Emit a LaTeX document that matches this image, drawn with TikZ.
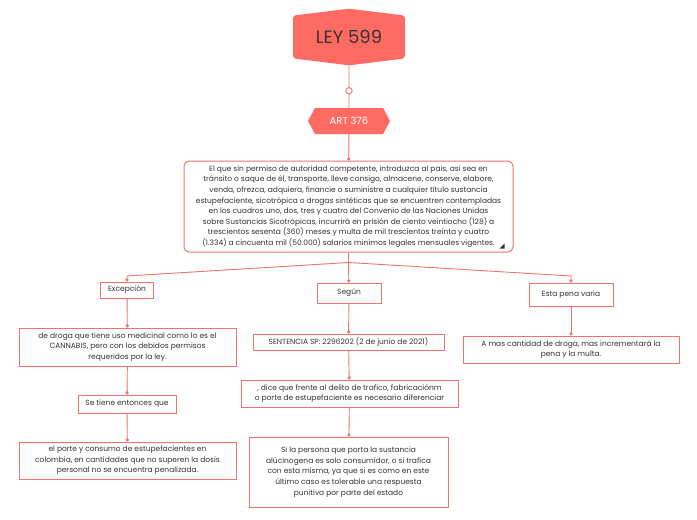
\documentclass[tikz,border=0pt]{standalone}
\usepackage{fontspec}
\setmainfont{Poppins}
\usepackage{tikz}
\usetikzlibrary{shapes.symbols,% signal shapes for the two titles
arrows.meta}
\definecolor{salmon}{HTML}{FF6B63}
\definecolor{linea}{HTML}{F4716B}
\definecolor{texto}{HTML}{333333}
\tikzset{every node/.style={font=\fontsize{7.5}{10.6}\selectfont,text=texto},
  caja/.style={draw=linea,line width=1pt,fill=white,align=center,inner xsep=4pt,inner ysep=3pt},
  conector/.style={draw=linea,line width=0.9pt,-{Circle[length=3.2pt]}}}
\begin{document}
\begin{tikzpicture}[x=1pt,y=-1pt]
  \useasboundingbox[fill=white] (0,0) rectangle (697,520);
  % titulos
  \node[signal,signal to=north and south,signal pointer angle=166,fill=salmon,
    minimum width=112pt,minimum height=51pt,inner sep=0pt,rounded corners=3pt,
    font=\fontsize{18}{20}\selectfont] (ley) at (349,37) {LEY 599};
  \node[signal,signal to=west and east,signal pointer angle=124,fill=salmon,
    minimum width=82pt,minimum height=26pt,inner sep=0pt,text=white,
    font=\fontsize{10}{12}\selectfont] (art) at (349,121) {ART 376};
  \node[caja,rounded corners=5pt,minimum width=329pt,minimum height=91pt] (ley376) at (348.5,206.5)
    {El que sin permiso de autoridad competente, introduzca al pais, asi sea en\\
     tránsito o saque de él, transporte, lleve consigo, almacene, conserve, elabore,\\
     venda, ofrezca, adquiera, financie o suministre a cualquier título sustancia\\
     estupefaciente, sicotrópica o drogas sintéticas que se encuentren contempladas\\
     en los cuadros uno, dos, tres y cuatro del Convenio de las Naciones Unidas\\
     sobre Sustancias Sicotrópicas, incurrirá en prisión de ciento veintiocho (128) a\\
     trescientos sesenta (360) meses y multa de mil trescientos treinta y cuatro\\
     (1.334) a cincuenta mil (50.000) salarios minimos legales mensuales vigentes.};
  \fill[texto] (ley376.south east) ++(-9,-4) -- ++(0,-5) -- ++(-5,5) -- cycle;
  % columna izquierda
  \node[caja,minimum width=53pt,minimum height=16pt] (excep) at (127,290) {Excepción};
  \node[caja,minimum width=217pt,minimum height=38pt] (medic) at (127.5,347)
    {de droga que tiene uso medicinal como lo es el\\ CANNABIS, pero con los debidos permisos\\ requeridos por la ley.};
  \node[caja,minimum width=98pt,minimum height=18pt] (setiene) at (127,404) {Se tiene entonces que};
  \node[caja,minimum width=217pt,minimum height=37pt] (porte) at (127.5,460.5)
    {el porte y consumo de estupefacientes en\\ colombia, en cantidades que no superen la dosis\\ personal no se encuentra penalizada.};
  % columna central
  \node[caja,minimum width=64pt,minimum height=20pt] (segun) at (349,293) {Según};
  \node[caja,minimum width=191pt,minimum height=16pt] (sent) at (348.5,342) {SENTENCIA SP: 2296202 (2 de junio de 2021)};
  \node[caja,minimum width=217pt,minimum height=27pt] (dice) at (349.5,393.5)
    {, dice que frente al delito de trafico, fabricaciónm\\ o porte de estupefaciente es necesario diferenciar};
  \node[caja,minimum width=199pt,minimum height=70pt] (persona) at (348.5,472)
    {Si la persona que porta la sustancia\\ alúcinogena es solo consumidor, o si trafica\\ con esta misma, ya que si es como en este\\ último caso es tolerable una respuesta\\ punitiva por parte del estado};
  % columna derecha
  \node[caja,minimum width=84pt,minimum height=23pt] (pena) at (571,294.5) {Esta pena varia};
  \node[caja,minimum width=216pt,minimum height=27pt] (cantidad) at (571,349.5)
    {A mas cantidad de droga, mas incrementará la\\ pena y la multa.};
  % conectores
  \draw[linea,line width=0.9pt] (ley) -- (art.north) ++(0,-17) coordinate (aro);
  \draw[linea,line width=0.9pt,fill=white] (aro) circle[radius=3.2pt];
  \draw[conector] (art) -- (ley376);
  \draw[linea,line width=0.9pt] (ley376.south) -- ++(0,10) coordinate (rama);
  \coordinate (izq) at (127,276);
  \coordinate (der) at (571,276);
  \draw[conector] (rama) -- (izq) -- (excep);
  \draw[conector] (rama) -- (segun);
  \draw[conector] (rama) -- (der) -- (pena);
  \draw[conector] (excep) -- (medic);
  \draw[conector] (medic) -- (setiene);
  \draw[conector] (setiene) -- (porte);
  \draw[conector] (segun) -- (sent);
  \draw[conector] (sent) -- (dice);
  \draw[conector] (dice) -- (persona);
  \draw[conector] (pena) -- (cantidad);
\end{tikzpicture}
\end{document}
